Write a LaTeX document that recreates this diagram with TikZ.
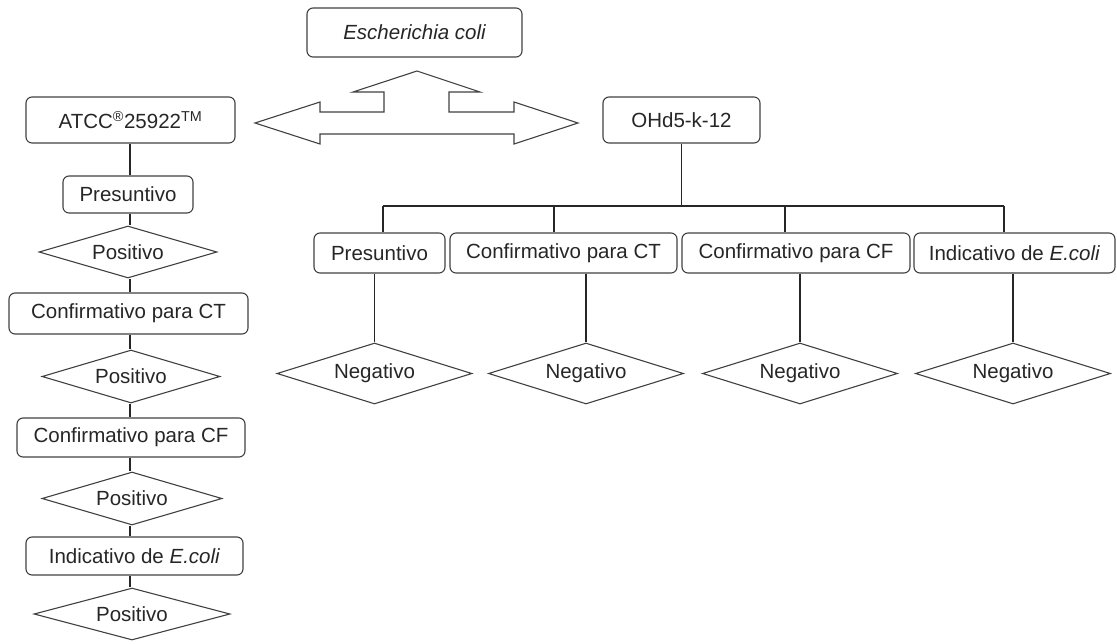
\documentclass[tikz,border=0pt]{standalone}
\usepackage{fontspec}
\setmainfont{Liberation Sans}
\usetikzlibrary{shapes.geometric}
\begin{document}
\begin{tikzpicture}[x=1pt, y=-1pt, line width=1.3pt, draw=black!85,
  every node/.style={inner sep=0pt, text=black!85, font=\fontsize{20.5}{24}\selectfont},
  box/.style={draw=black!75, line width=1.1pt, rounded corners=6pt, minimum height=40},
  test/.style={draw=black!75, line width=1.1pt, diamond, aspect=3.4, minimum width=195, minimum height=61}]
\useasboundingbox (0,0) rectangle (1117,643);
% top
\node[box, minimum width=215, minimum height=49] (ecoli) at (414.5,32.5) {\itshape Escherichia coli};
\draw[black!75, line width=1.1pt] (255,123) -- (320,102) -- (320,112) -- (384,112) -- (384,92) -- (353,92) -- (417,71)
  -- (480,92) -- (449,92) -- (449,112) -- (514,112) -- (514,102) -- (578,123) -- (514,144)
  -- (514,134) -- (320,134) -- (320,144) -- cycle;
\node[box, minimum width=209, minimum height=46] (atcc) at (130.5,120) {ATCC\textsuperscript{\textregistered}25922\textsuperscript{TM}};
\node[box, minimum width=157, minimum height=46] (ohd) at (681.5,120) {OHd5-k-12};
% left column
\node[box, minimum width=130, minimum height=37] (lp) at (128,194.5) {Presuntivo};
\node[test, minimum width=178, minimum height=52] (ld1) at (128,252) {Positivo};
\node[box, minimum width=239, minimum height=41] (lct) at (128.5,313.5) {Confirmativo para CT};
\node[test, minimum width=178, minimum height=53] (ld2) at (131,376.5) {Positivo};
\node[box, minimum width=228, minimum height=39] (lcf) at (131,437.5) {Confirmativo para CF};
\node[test, minimum width=180, minimum height=53] (ld3) at (132,498.5) {Positivo};
\node[box, minimum width=217, minimum height=38] (lind) at (134.5,556) {Indicativo de \textit{E.coli}};
\node[test, minimum width=196, minimum height=52] (ld4) at (132,614) {Positivo};
\coordinate (col) at (130,0);
\foreach \a/\b in {atcc/lp, lp/ld1, ld1/lct, lct/ld2, ld2/lcf, lcf/ld3, ld3/lind, lind/ld4} \draw (\a.south -| col) -- (\b.north -| col);
% right row
\node[box, minimum width=131] (rp) at (379.5,253) {Presuntivo};
\node[box, minimum width=227] (rct) at (563.5,253) {Confirmativo para CT};
\node[box, minimum width=228] (rcf) at (796,253) {Confirmativo para CF};
\node[box, minimum width=201] (rind) at (1014.5,253) {Indicativo de \textit{E.coli}};
\node[test] (rn1) at (374.5,373.5) {Negativo};
\node[test] (rn2) at (586,373.5) {Negativo};
\node[test] (rn3) at (800,373.5) {Negativo};
\node[test] (rn4) at (1013,373.5) {Negativo};
\coordinate (b1) at (383,206);
\coordinate (b2) at (554,206);
\coordinate (b3) at (785,206);
\coordinate (b4) at (1004,206);
\draw (ohd.south) -- (ohd.south |- b1);
\draw (b1) -- (b4);
\foreach \b/\c in {b1/rp, b2/rct, b3/rcf, b4/rind} \draw (\b) -- (\b |- \c.north);
\foreach \c/\n in {rp/rn1, rct/rn2, rcf/rn3, rind/rn4} \draw (\n.north |- \c.south) -- (\n.north);
\end{tikzpicture}
\end{document}
